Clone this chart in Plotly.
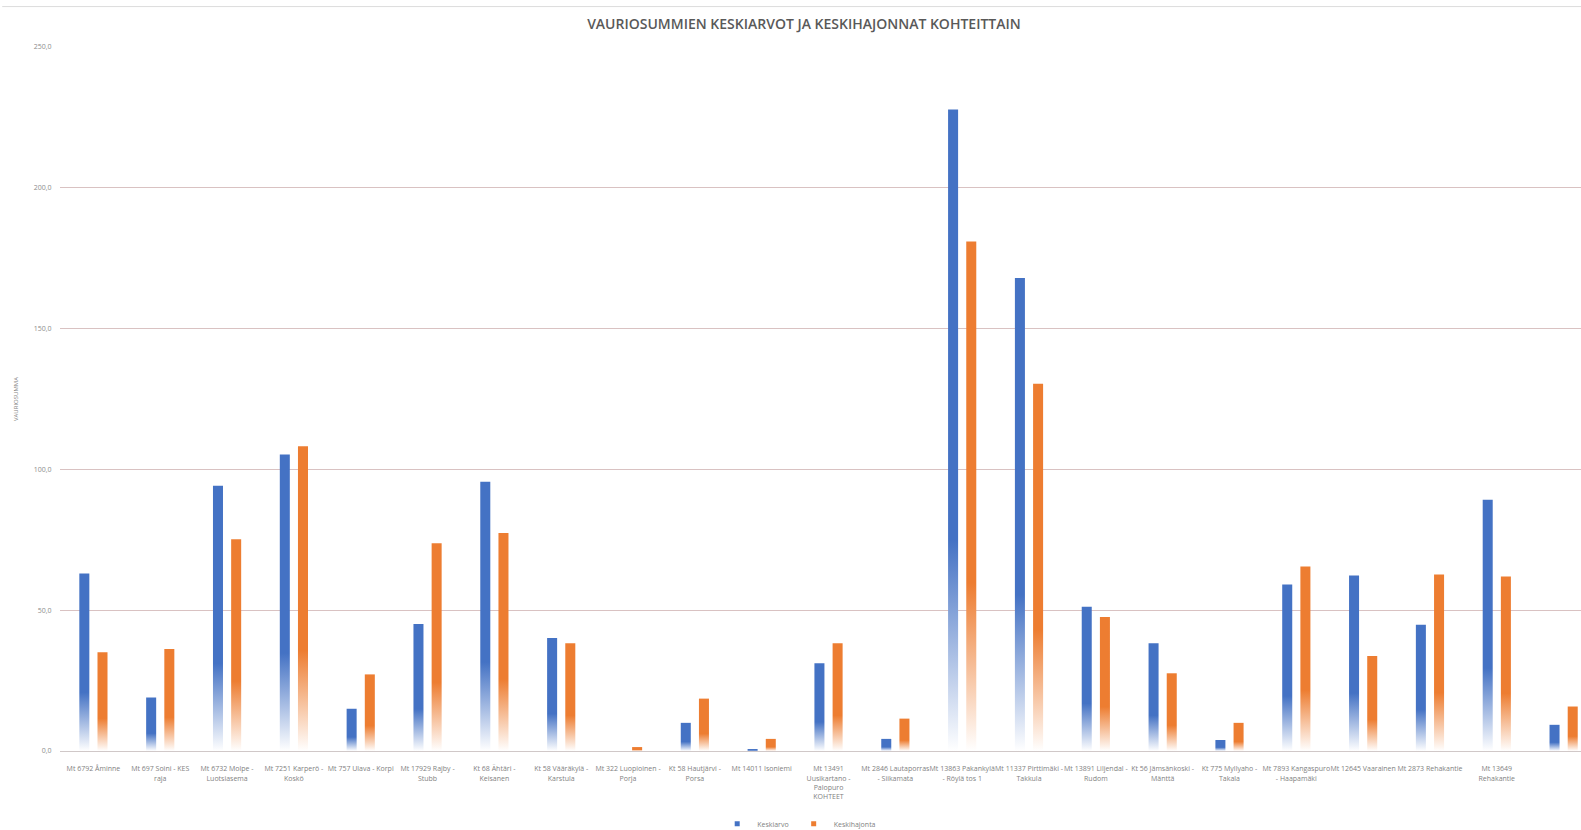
import plotly.graph_objects as go

# Road sections (x categories)
kohteet = [
    "Mt 6792 Åminne",
    "Mt 697 Soini - KES<br>raja",
    "Mt 6732 Molpe -<br>Luotsiasema",
    "Mt 7251 Karperö -<br>Koskö",
    "Mt 757 Ulava - Korpi",
    "Mt 17929 Rajby -<br>Stubb",
    "Kt 68 Ähtäri -<br>Keisanen",
    "Kt 58 Vääräkylä -<br>Karstula",
    "Mt 322 Luopioinen -<br>Porja",
    "Kt 58 Hautjärvi -<br>Porsa",
    "Mt 14011 Isoniemi",
    "Mt 13491<br>Uusikartano -<br>Palopuro<br>KOHTEET",
    "Mt 2846 Lautaporras<br>- Siikamata",
    "Mt 13863 Pakankylä<br>- Röylä tos 1",
    "Mt 11337 Pirttimäki -<br>Takkula",
    "Mt 13891 Liljendal -<br>Rudom",
    "Kt 56 Jämsänkoski -<br>Mänttä",
    "Kt 775 Myllyaho -<br>Takala",
    "Mt 7893 Kangaspuro<br>- Haapamäki",
    "Mt 12645 Vaarainen",
    "Mt 2873 Rehakantie",
    "Mt 13649<br>Rehakantie",
    "Mt 12053<br>Taalintehtaa<br>paikallistie",
]

keskiarvo = [63.0, 19.0, 94.2, 105.3, 15.0, 45.1, 95.6, 40.1, 0.0, 10.0, 0.7, 31.2,
             4.3, 227.8, 168.0, 51.2, 38.3, 3.9, 59.1, 62.3, 44.8, 89.2, 9.3]
keskihajonta = [35.1, 36.2, 75.2, 108.2, 27.2, 73.8, 77.4, 38.3, 1.4, 18.6, 4.3, 38.3,
                11.5, 180.9, 130.4, 47.6, 27.6, 10.0, 65.5, 33.7, 62.7, 62.0, 15.8]

y_ticks = [0, 50, 100, 150, 200, 250]

series = [
    ("Keskiarvo", keskiarvo, "#4472C4", -0.136),
    ("Keskihajonta", keskihajonta, "#ED7D31", 0.136),
]
bar_w = 0.15

fig = go.Figure()
for name, values, color, offset in series:
    # white at the base, full colour from about a third of the bar height upwards
    scale = [[0.0, "#ffffff"], [0.33, color], [1.0, color]]
    for i, v in enumerate(values):
        x0 = i + offset - bar_w / 2
        x1 = i + offset + bar_w / 2
        fig.add_trace(go.Scatter(
            x=[x0, x1, x1, x0, x0],
            y=[0, 0, v, v, 0],
            mode="lines",
            line=dict(width=0),
            fill="toself",
            fillgradient=dict(type="vertical", colorscale=scale),
            fillcolor=color,
            name=name,
            legendgroup=name,
            showlegend=False,
            hoverinfo="skip",
        ))
    # legend entry: small square swatch
    fig.add_trace(go.Scatter(
        x=[None], y=[None], mode="markers",
        marker=dict(symbol="square", size=5, color=color),
        name=name, legendgroup=name, showlegend=True,
    ))

fig.update_layout(
    width=1581,
    height=830,
    margin=dict(l=60, r=0, t=47, b=79, autoexpand=False),
    paper_bgcolor="white",
    plot_bgcolor="white",
    separators=", ",
    font=dict(family="Open Sans, sans-serif", color="#7f7f7f", size=7),
    title=dict(
        text="VAURIOSUMMIEN KESKIARVOT JA KESKIHAJONNAT KOHTEITTAIN",
        x=0.5085, xref="container", xanchor="center",
        y=0.971, yref="container", yanchor="middle",
        font=dict(family="Open Sans, sans-serif", size=14, color="#595959", weight=600),
    ),
    xaxis=dict(
        range=[-0.5, 22.26],
        tickmode="array",
        tickvals=list(range(len(kohteet))),
        ticktext=kohteet,
        tickangle=0,
        automargin=False,
        showgrid=False,
        zeroline=False,
        showline=True,
        linecolor="#d0c8c8",
        linewidth=1,
        ticks="outside",
        ticklen=11,
        tickcolor="rgba(0,0,0,0)",
        tickfont=dict(size=7, color="#7f7f7f"),
    ),
    yaxis=dict(
        range=[0, 250],
        tickvals=y_ticks,
        tickformat=".1f",
        automargin=False,
        showgrid=True,
        gridcolor="#d9c2c2",
        gridwidth=1,
        zeroline=False,
        ticks="outside",
        ticklen=6,
        tickcolor="rgba(0,0,0,0)",
        tickfont=dict(size=7, color="#8c8c8c"),
        title=dict(text="VAURIOSUMMA", font=dict(size=6, color="#7f7f7f"), standoff=14),
    ),
    legend=dict(
        orientation="h",
        x=0.486, xanchor="center",
        yref="container", y=0.0075, yanchor="middle",
        font=dict(size=7, color="#7f7f7f"),
        itemwidth=30,
        tracegroupgap=0,
        bgcolor="rgba(0,0,0,0)",
    ),
    shapes=[
        dict(type="line", xref="paper", yref="paper", x0=-0.038, x1=1, y0=1.0574, y1=1.0574,
             line=dict(color="#dcdcdc", width=1)),
    ],
)

fig.write_html("out.html")
